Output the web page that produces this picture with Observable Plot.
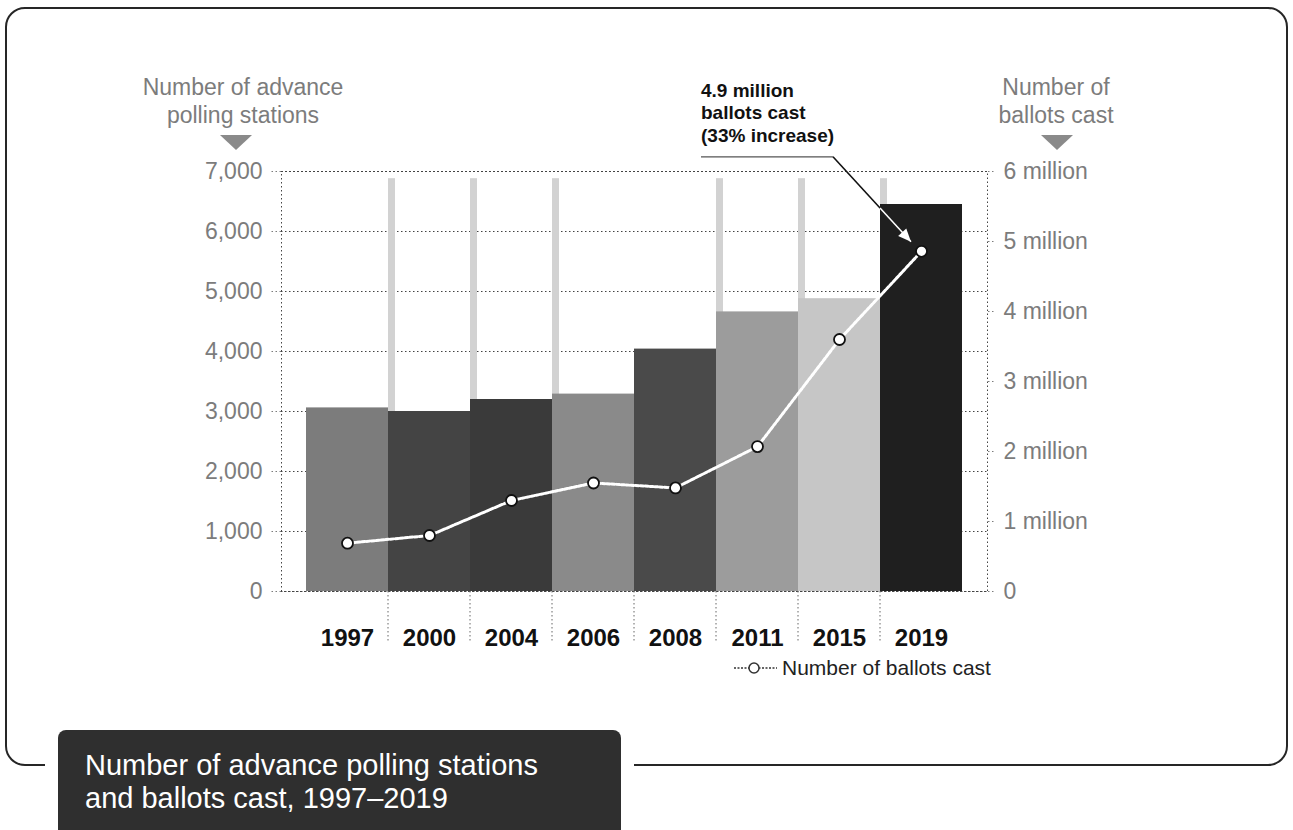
<!DOCTYPE html>
<html><head><meta charset="utf-8">
<script src="https://cdn.jsdelivr.net/npm/d3@7"></script>
<script src="https://cdn.jsdelivr.net/npm/@observablehq/plot@0.6"></script>
<style>
body{margin:0;background:#fff;font-family:"Liberation Sans",Arial,sans-serif;}
#wrap{position:relative;width:1293px;height:830px;overflow:hidden;background:#fff;}
#frame{position:absolute;left:5px;top:7px;width:1283px;height:759px;border:2.5px solid #262626;border-radius:20px;box-sizing:border-box;}
#chart{position:absolute;left:0;top:0;}
.atitle{position:absolute;color:#7c7c7c;font-size:23px;line-height:28px;text-align:center;white-space:nowrap;}
.tri{position:absolute;width:0;height:0;border-left:16px solid transparent;border-right:16px solid transparent;border-top:15px solid #8a8a8a;}
#titlebox{position:absolute;left:58px;top:730px;width:563px;height:110px;background:#2f2f2f;border-radius:8px 8px 0 0;box-shadow:0 0 0 13px #fff;color:#fff;font-size:29px;line-height:33px;padding:19px 0 0 27px;box-sizing:border-box;}
#legend{position:absolute;left:733px;top:656px;display:flex;align-items:center;font-size:21px;color:#222;white-space:nowrap;}
</style></head>
<body>
<div id="wrap">
  <div id="frame"></div>
  <div id="chart"></div>
  <div class="atitle" style="left:133px;top:73px;width:220px;">Number of advance<br>polling stations</div>
  <div class="tri" style="left:220px;top:135px;"></div>
  <div class="atitle" style="left:976px;top:73px;width:160px;">Number of<br>ballots cast</div>
  <div class="tri" style="left:1041px;top:135px;"></div>
  <div id="legend"><svg width="45" height="14" style="margin-right:4px"><line x1="1" x2="44" y1="7" y2="7" stroke="#333" stroke-width="1.5" stroke-dasharray="2,1.5"/><circle cx="21" cy="7" r="5" fill="#fff" stroke="#333" stroke-width="1.5"/></svg><span>Number of ballots cast</span></div>
  <div id="titlebox">Number of advance polling stations<br>and ballots cast, 1997–2019</div>
</div>
<script>
// ---- data ----
const years = ["1997", "2000", "2004", "2006", "2008", "2011", "2015", "2019"];
const stations = [3060, 3000, 3200, 3290, 4040, 4660, 4880, 6450];
const ballotsMillions = [0.69, 0.80, 1.30, 1.55, 1.48, 2.07, 3.60, 4.86];
const barColors = ["#7c7c7c", "#444444", "#3a3a3a", "#8a8a8a", "#4a4a4a", "#9c9c9c", "#c6c6c6", "#1f1f1f"];
const leftTicks = [0, 1000, 2000, 3000, 4000, 5000, 6000, 7000];
const rightTicksMillions = [0, 1, 2, 3, 4, 5, 6];
const shadowYears = ["2000", "2004", "2006", "2011", "2015", "2019"];
const shadowTop = 6880;
const annotationLines = ["4.9 million", "ballots cast", "(33% increase)"];

const K = 7000 / 6; // stations-axis units per million ballots (right axis 6 million = left 7,000)
const data = years.map((y, i) => ({year: y, stations: stations[i], ballots: ballotsMillions[i], color: barColors[i]}));

const font = "Liberation Sans, Arial, sans-serif";
const chart = Plot.plot({
  width: 1293, height: 700,
  marginLeft: 281, marginRight: 306, marginTop: 171, marginBottom: 109,
  style: {fontFamily: font, background: "transparent", overflow: "visible"},
  x: {type: "band", domain: years, paddingInner: 0, paddingOuter: 0.266, axis: null},
  y: {domain: [0, 7000], axis: null},
  color: {type: "identity"},
  marks: [
    Plot.gridY(leftTicks, {stroke: "#444", strokeOpacity: 1, strokeDasharray: "1.5,2.5"}),
    Plot.barY(shadowYears, {x: d => d, y: shadowTop, fill: "#d2d2d2", insetRight: 75}),
    Plot.barY(data, {x: "year", y: "stations", fill: "color"}),
    Plot.frame({stroke: "#444", strokeDasharray: "1.5,2.5"}),
    Plot.axisY(leftTicks, {anchor: "left", label: null, tickSize: 11, tickPadding: 8, tickFormat: d3.format(","),
      fontSize: 23, color: "#7c7c7c", strokeDasharray: "1.5,2.5"}),
    Plot.axisY(rightTicksMillions.map(m => m * K), {anchor: "right", label: null, tickSize: 8, tickPadding: 8,
      tickFormat: v => { const m = Math.round(v / K); return m === 0 ? "0" : `${m} million`; },
      fontSize: 23, color: "#7c7c7c", strokeDasharray: "1.5,2.5"}),
    Plot.axisX({label: null, tickSize: 0, tickPadding: 37, fontSize: 24, fontWeight: "bold", color: "#111"}),
    Plot.line(data, {x: "year", y: d => d.ballots * K, stroke: "#fff", strokeWidth: 3, strokeDasharray: "3,1.8"}),
    Plot.dot(data, {x: "year", y: d => d.ballots * K, r: 5.5, fill: "#fff", stroke: "#111", strokeWidth: 1.8})
  ]
});
document.getElementById("chart").appendChild(chart);

// ---- overlays positioned from the plot's own scales ----
const xs = chart.scale("x"), ys = chart.scale("y");
const bw = xs.bandwidth;
const svg = d3.select(chart);
const g = svg.append("g").attr("text-anchor", "start");
// separators below the axis between years
years.slice(1).forEach(yr => {
  const x = xs.apply(yr);
  g.append("line").attr("x1", x).attr("x2", x).attr("y1", ys.apply(0)).attr("y2", ys.apply(0) + 50)
    .attr("stroke", "#666").attr("stroke-dasharray", "1.5,2.5");
});
// annotation arrow to the last point
const last = data[data.length - 1];
const ex = xs.apply(last.year) + bw / 2 - 10, ey = ys.apply(last.ballots * K) - 9;
const sx = ex - 78, sy = ey - 85;
g.append("line").attr("x1", sx).attr("y1", sy).attr("x2", ex).attr("y2", ey).attr("stroke", "#111").attr("stroke-width", 1.6);
const bx = xs.apply(last.year), t = (bx - sx) / (ex - sx);
g.append("line").attr("x1", sx + t * (ex - sx)).attr("y1", sy + t * (ey - sy)).attr("x2", ex).attr("y2", ey)
  .attr("stroke", "#fff").attr("stroke-width", 1.6);
const ang = Math.atan2(ey - sy, ex - sx);
const hl = 13, hw = 5.5;
const p = (l, w) => [ex - l * Math.cos(ang) - w * Math.sin(ang), ey - l * Math.sin(ang) + w * Math.cos(ang)];
g.append("path").attr("d", `M${ex},${ey}L${p(hl, hw)}L${p(hl, -hw)}Z`).attr("fill", "#fff");
// underline + text
const textLeft = sx - 132;
g.append("line").attr("x1", textLeft).attr("x2", sx).attr("y1", sy).attr("y2", sy).attr("stroke", "#555").attr("stroke-width", 1.2);
annotationLines.forEach((s, i) => {
  g.append("text").attr("x", textLeft).attr("y", sy - 60 + i * 22.5).text(s).attr("text-anchor", "start")
    .attr("font-family", font).attr("font-weight", "bold").attr("font-size", 19).attr("fill", "#111");
});
</script>
</body></html>
